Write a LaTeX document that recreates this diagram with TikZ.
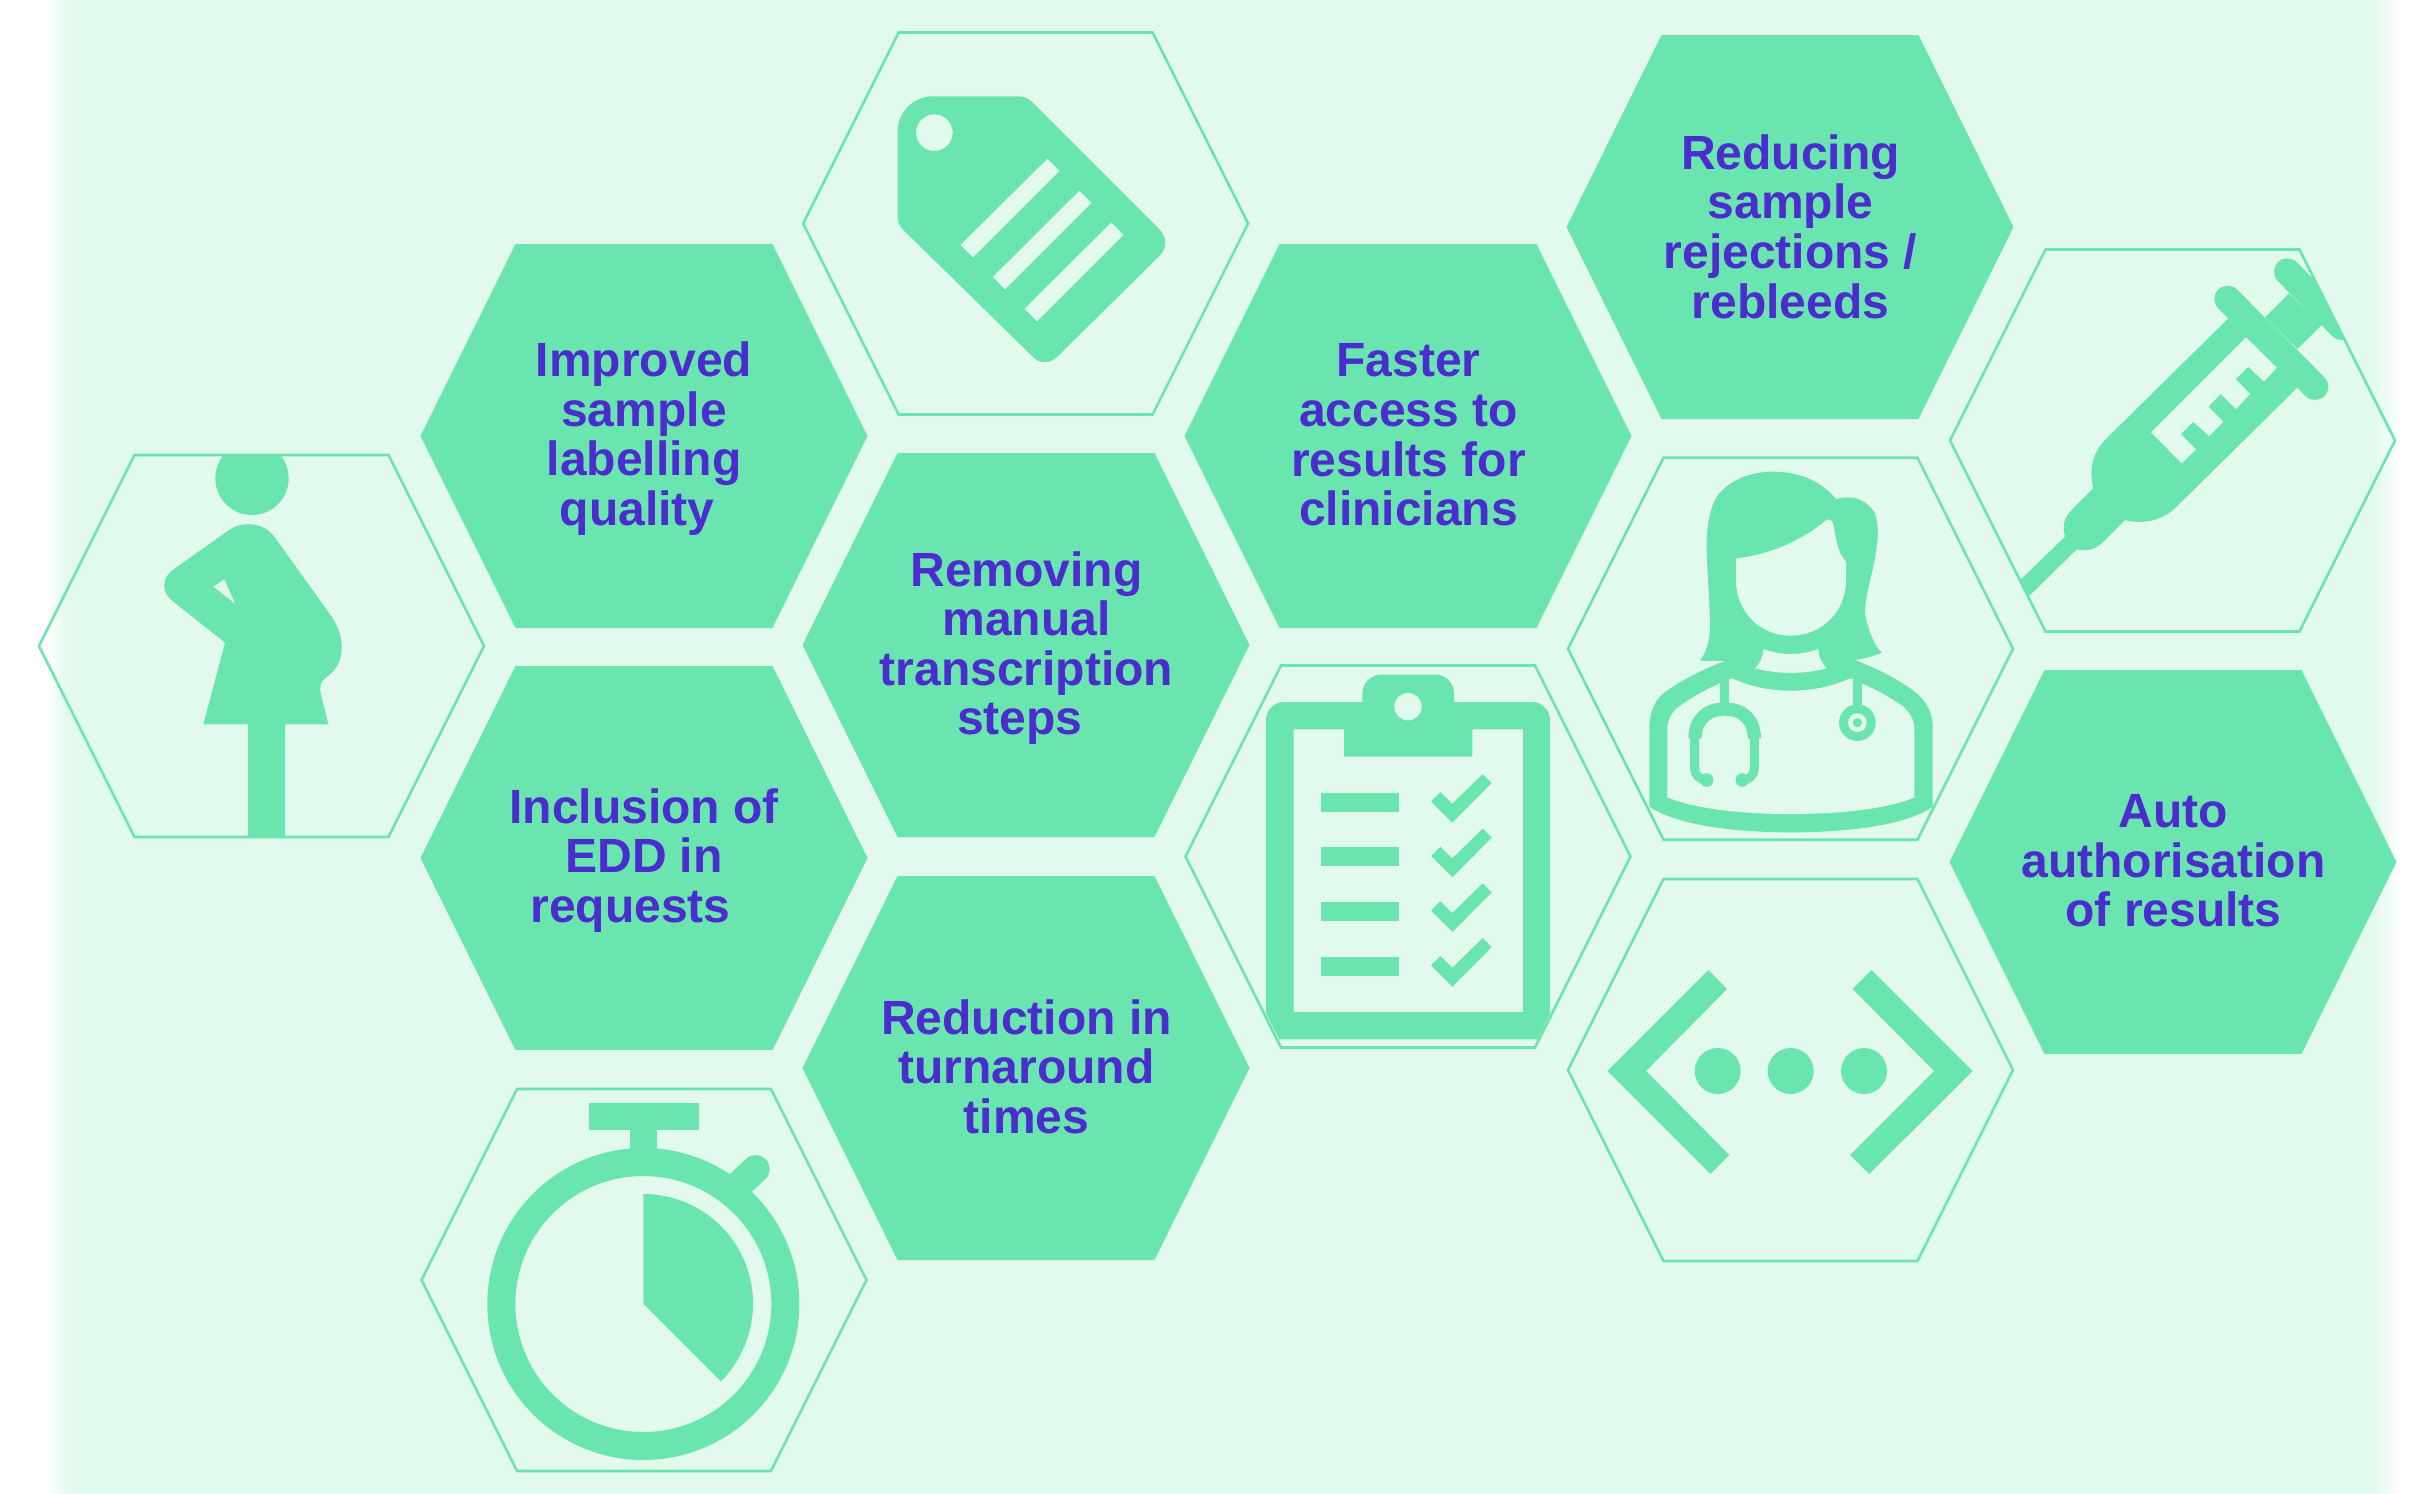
\documentclass[tikz,border=0pt]{standalone}
\usepackage{fontspec}
\setmainfont{Liberation Sans}
\definecolor{gr}{HTML}{6AE5AF}
\definecolor{bgc}{HTML}{E2F9EE}
\definecolor{txt}{HTML}{4A2DCC}
\newcommand\hexo[2]{(#1-222.5,#2) -- (#1-127,#2-191) -- (#1+127,#2-191) -- (#1+222.5,#2) -- (#1+127,#2+191) -- (#1-127,#2+191) -- cycle}
\newcommand\hexf[2]{(#1-223.5,#2) -- (#1-128.5,#2-192) -- (#1+128.5,#2-192) -- (#1+223.5,#2) -- (#1+128.5,#2+192) -- (#1-128.5,#2+192) -- cycle}
\tikzset{
  filledhex/.style={fill=gr,draw=none},
  outlinehex/.style={draw=gr,line width=1.3pt,line join=miter},
  label/.style={text=txt,inner sep=0pt,align=center,font=\fontsize{24}{24.8}\selectfont\bfseries},
  zoomed/.style 2 args={shift={(#1*0.5pt,-#2*0.5pt)},x=0.166667pt,y=-0.166667pt},
  icon/.style={fill=gr,draw=none},
  hole/.style={fill=bgc,draw=none},
  zw/.style={line width=#1*0.166667pt},
}
\newcommand\tsp{\hspace*{.28em}}
\begin{document}
\begin{tikzpicture}[x=0.5pt,y=-0.5pt]
\useasboundingbox (0,0) rectangle (2432,1494);
\fill[white] (0,0) rectangle (2432,1494);
\fill[bgc] (65,0) rectangle (2375,1494);
\shade[left color=white,right color=bgc] (48,0) rectangle (66,1494);
\shade[left color=bgc,right color=white] (2374,0) rectangle (2400,1494);

% filled hexagons
\fill[filledhex] \hexf{644}{436};
\fill[filledhex] \hexf{644}{858};
\fill[filledhex] \hexf{1026}{645};
\fill[filledhex] \hexf{1026}{1068};
\fill[filledhex] \hexf{1408}{436};
\fill[filledhex] \hexf{1790}{227};
\fill[filledhex] \hexf{2173}{862};

% outline hexagons
\draw[outlinehex] \hexo{261.5}{646};
\draw[outlinehex] \hexo{644}{1280};
\draw[outlinehex] \hexo{1025.6}{223.5};
\draw[outlinehex] \hexo{1408}{856.5};
\draw[outlinehex] \hexo{1790.5}{648.7};
\draw[outlinehex] \hexo{1790.5}{1070};
\draw[outlinehex] \hexo{2172.5}{440.5};

% labels
\node[label] (improved) at (644,438.5) {Improved\\sample\\labelling\\quality\tsp};
\node[label] (inclusion) at (644,860.5) {Inclusion of\\EDD in\\requests\tsp\tsp};
\node[label] (removing) at (1026.5,648) {Removing\\manual\\transcription\\steps\tsp};
\node[label] (reduction) at (1026.5,1066.5) {Reduction in\\turnaround\\times};
\node[label] (faster) at (1408.5,435) {Faster\\access to\\results for\\clinicians};
\node[label] (reducing) at (1790.5,226.5) {Reducing\\sample\\rejections /\\rebleeds};
\node[label] (auto) at (2173.5,861) {Auto\\authorisation\\of results};

% pregnant woman
\begin{scope}[zoomed={0}{420}]
\begin{scope}
\clip (600,107) rectangle (900,300);
\fill[icon] (756,175) circle[radius=18.33pt];
\end{scope}
\fill[icon,even odd rule] (690,328) .. controls (715,310) and (790,295) .. (830,360) -- (995,590)
 .. controls (1020,630) and (1025,655) .. (1025,685) .. controls (1025,725) and (1005,755) .. (975,775)
 .. controls (962,785) and (958,800) .. (962,820) -- (985,913) -- (855,913) -- (855,1250) -- (744,1250) -- (744,913) -- (610,913) -- (675,668) -- (520,545)
 .. controls (480,515) and (485,470) .. (525,445) -- cycle
 (640,500) -- (673,477) -- (706,552) -- cycle;
\end{scope}

% tag
\begin{scope}[zoomed={800}{20}]
\fill[icon,even odd rule] (400,229) -- (655,229) .. controls (672,229) and (685,235) .. (695,245) -- (1075,625)
 .. controls (1102,650) and (1102,685) .. (1078,708) -- (775,1007) .. controls (750,1033) and (718,1033) .. (695,1007) -- (310,630)
 .. controls (298,618) and (293,605) .. (293,590) -- (293,335) .. controls (293,275) and (340,229) .. (400,229) -- cycle
 (403,338) circle[radius=9.17pt]
 (742,416) -- (779,453) -- (519,713) -- (481,675) -- cycle
 (838,512) -- (875,549) -- (615,809) -- (578,771) -- cycle
 (934,607) -- (971,645) -- (711,905) -- (673,866) -- cycle;
\end{scope}

% syringe
\begin{scope}
\clip \hexo{2172.5}{440.5};
\begin{scope}[zoomed={1960}{230}]
\draw[gr,zw=80,line cap=round] (803,207) -- (1065,470);
\draw[gr,zw=80,line cap=round] (982,125) -- (1145,290);
\fill[icon] (915,262) -- (987,190) -- (1085,285) -- (1012,357) -- cycle;
\fill[icon] (150,1080) -- (315,920) .. controls (305,885) and (315,860) .. (335,840) -- (400,775)
 .. controls (385,710) and (400,665) .. (440,625) -- (820,250) -- (1030,455) -- (650,830)
 .. controls (610,870) and (555,885) .. (495,870) -- (430,935) .. controls (405,960) and (380,965) .. (350,958) -- (190,1115) -- cycle;
\fill[hole] (858,322) -- (950,413) -- (912,455) -- (865,410) -- (827,447) -- (870,492) -- (828,537) -- (782,492) -- (745,530) -- (790,575) -- (747,618) -- (700,575) -- (662,612) -- (708,658) -- (665,700) -- (573,607) -- cycle;
\end{scope}
\end{scope}

% doctor
\begin{scope}[zoomed={1560}{450}]
\fill[icon] (420,632) .. controls (450,590) and (450,545) .. (450,520) .. controls (448,430) and (440,350) .. (440,280)
 .. controls (440,230) and (450,175) .. (470,140) .. controls (510,85) and (580,65) .. (640,65) .. controls (720,65) and (785,95) .. (828,147)
 .. controls (880,135) and (915,145) .. (945,190) .. controls (955,225) and (955,260) .. (950,290) .. controls (940,370) and (915,430) .. (915,490)
 .. controls (925,545) and (945,590) .. (965,608) .. controls (940,620) and (910,625) .. (885,630) -- (800,700) -- (560,700) -- (490,633) -- cycle;
\fill[icon] (490,635) .. controls (420,660) and (350,700) .. (310,730) .. controls (285,750) and (268,790) .. (268,830) -- (268,1070)
 .. controls (350,1125) and (520,1147) .. (692,1147) .. controls (870,1147) and (1040,1125) .. (1118,1070) -- (1118,830)
 .. controls (1118,790) and (1100,755) .. (1070,730) .. controls (1020,690) and (950,655) .. (885,630) -- cycle;
\fill[hole] (528,325) .. controls (625,315) and (720,275) .. (800,210) .. controls (810,205) and (818,212) .. (820,225) .. controls (830,280) and (835,310) .. (858,335)
 -- (858,390) .. controls (858,485) and (785,557) .. (692,557) .. controls (600,557) and (528,485) .. (528,390) -- cycle;
\fill[hole] (610,597) .. controls (665,617) and (720,617) .. (775,597) .. controls (775,620) and (785,640) .. (800,655)
 .. controls (730,673) and (655,673) .. (585,655) .. controls (600,640) and (610,620) .. (610,597) -- cycle;
\fill[hole] (480,700) .. controls (435,720) and (390,745) .. (350,775) .. controls (330,795) and (322,815) .. (322,835) -- (322,1042)
 .. controls (410,1078) and (550,1092) .. (692,1092) .. controls (835,1092) and (980,1078) .. (1063,1042) -- (1063,835)
 .. controls (1063,815) and (1055,795) .. (1030,770) .. controls (990,742) and (950,720) .. (905,700) -- (870,685)
 .. controls (820,708) and (760,722) .. (692,722) .. controls (625,722) and (565,708) .. (517,685) -- cycle;
\fill[icon] (480,690) rectangle (507,770);
\fill[icon] (879,690) rectangle (906,775);
\draw[gr,zw=40] (405,865) .. controls (405,810) and (440,777) .. (494,777) .. controls (548,777) and (583,810) .. (583,865);
\draw[gr,zw=27] (404,860) -- (404,955) .. controls (404,975) and (420,990) .. (438,990);
\draw[gr,zw=27] (583,860) -- (583,955) .. controls (583,975) and (567,990) .. (549,990);
\fill[icon] (440,990) circle[radius=3.4pt] (547,990) circle[radius=3.4pt];
\fill[icon] (892,818) circle[radius=9.17pt];
\fill[hole] (892,818) circle[radius=4.67pt];
\fill[icon] (892,818) circle[radius=2.33pt];
\end{scope}

% clipboard
\begin{scope}[zoomed={1180}{660}]
\fill[icon,even odd rule] (258,180) .. controls (258,150) and (282,126) .. (312,126) -- (547,126) -- (547,100) .. controls (547,70) and (572,44) .. (603,44)
 -- (767,44) .. controls (798,44) and (822,70) .. (822,100) -- (822,126) -- (1056,126) .. controls (1086,126) and (1110,150) .. (1110,180)
 -- (1110,1060) -- (1072,1138) -- (298,1138) -- (258,1060) -- cycle
 (341,208) -- (492,208) -- (492,290) -- (877,290) -- (877,208) -- (1029,208) -- (1029,1056) -- (341,1056) -- cycle
 (684,140) circle[radius=6.9pt];
\foreach \y/\h in {400/457,562/619,727/783,891/947} \fill[icon] (423,\y) rectangle (657,\h);
\foreach \d in {0,164,328,492}
  \fill[icon] (753,424+\d) -- (781,396+\d) -- (817,431+\d) -- (908,342+\d) -- (935,369+\d) -- (817,488+\d) -- cycle;
\end{scope}

% code
\begin{scope}[zoomed={1560}{870}]
\fill[icon] (445,300) -- (501,357) -- (258,603) -- (508,855) -- (451,912) -- (142,603) -- cycle;
\fill[icon] (935,300) -- (878,357) -- (1122,603) -- (870,855) -- (928,912) -- (1238,603) -- cycle;
\fill[icon] (473,603) circle[radius=11.5pt] (692,603) circle[radius=11.5pt] (912,603) circle[radius=11.5pt];
\end{scope}

% stopwatch
\begin{scope}[zoomed={420}{1080}]
\fill[icon,even odd rule] (670,672) circle[radius=78pt] (670,672) circle[radius=64pt];
\fill[icon] (506,69) rectangle (836,151);
\fill[icon] (630,151) rectangle (711,230);
\draw[gr,zw=84,line cap=round] (945,325) -- (1007,267);
\fill[icon] (670,342) .. controls (852,342) and (999,489) .. (999,671) .. controls (999,758) and (964,842) .. (903,904) -- (670,671) -- cycle;
\end{scope}
\end{tikzpicture}
\end{document}
